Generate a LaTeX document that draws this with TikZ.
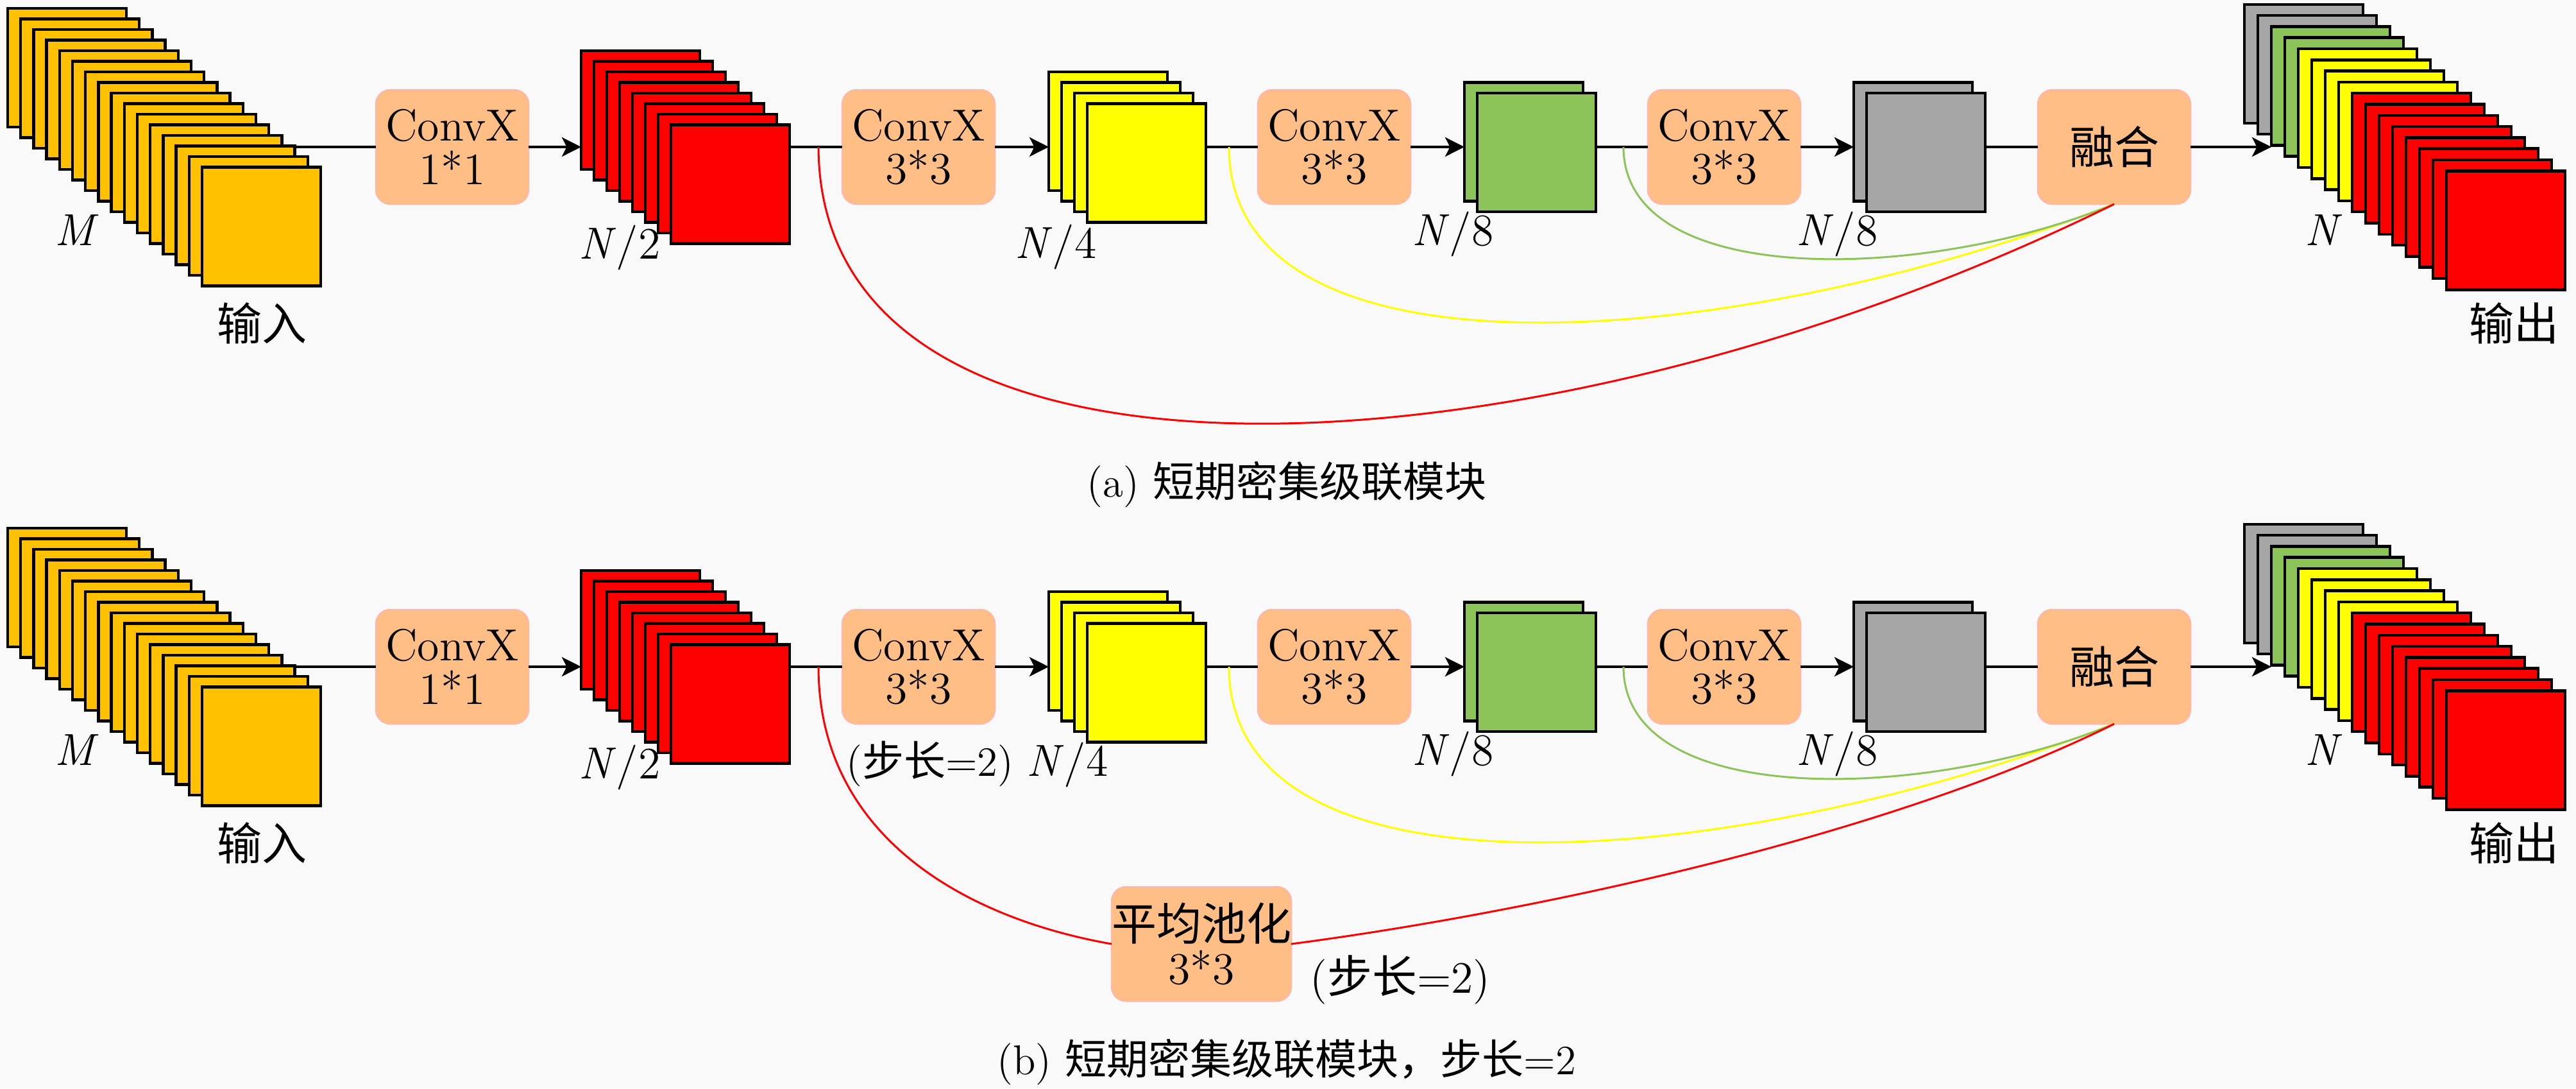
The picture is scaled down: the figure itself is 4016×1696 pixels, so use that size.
\documentclass[tikz,border=0pt]{standalone}
\usepackage{fontspec}
\newfontfamily\cjk{Noto Sans CJK SC}
\usetikzlibrary{arrows.meta}
\definecolor{cin}{RGB}{255,192,0}
\definecolor{cred}{RGB}{255,0,0}
\definecolor{cyel}{RGB}{255,255,0}
\definecolor{cgrn}{RGB}{141,196,90}
\definecolor{cgry}{RGB}{166,166,166}
\definecolor{cbox}{RGB}{255,190,134}
\definecolor{cedge}{RGB}{255,184,165}
\definecolor{cbg}{RGB}{249,249,249}
\newcommand\vN{\textit{N}}
\tikzset{
  fmap/.style={draw=black, line width=0.9pt, minimum width=37pt, minimum height=37pt, inner sep=0pt, outer sep=0pt},
  opbox/.style={fill=cbox, draw=cedge, line width=0.5pt, rounded corners=4.5pt, minimum width=47.6pt, minimum height=35.6pt, inner sep=0pt, outer sep=0pt, align=center, font=\fontsize{14}{13.5}\selectfont},
  lab/.style={inner sep=0pt, font=\fontsize{14}{14}\selectfont},
  captext/.style={inner sep=0pt, font=\fontsize{13}{13}\selectfont},
  conn/.style={draw=black, line width=0.85pt},
  arr/.style={conn, -{Stealth[length=6pt,width=6pt,inset=1.5pt]}},
  cr/.style={draw=cred, line width=0.6pt},
  cy/.style={draw=cyel, line width=0.6pt},
  cg/.style={draw=cgrn, line width=0.6pt},
}
% #1 name, #2 x of back rect, #3 y top of back rect, #4 dx, #5 dy, #6 colours
\newcommand\fmstack[6]{%
  \foreach \c [count=\i from 0] in {#6} {%
    \node[fmap, fill=\c, anchor=north west] (#1-\i) at ({#2+\i*#4},{#3+\i*#5}) {};
  }%
}
% #1 prefix, #2 y of main line
\newcommand\panel[2]{%
  \fmstack{#1in}{12}{#2-216.25}{20.2}{16.5}{cin,cin,cin,cin,cin,cin,cin,cin,cin,cin,cin,cin,cin,cin,cin,cin}
  \fmstack{#1nb}{906}{#2-150.25}{20}{16.5}{cred,cred,cred,cred,cred,cred,cred,cred}
  \fmstack{#1nc}{1635}{#2-117.25}{20}{16.5}{cyel,cyel,cyel,cyel}
  \fmstack{#1g}{2283}{#2-100.75}{20}{16.5}{cgrn,cgrn}
  \fmstack{#1k}{2890}{#2-100.75}{20}{16.5}{cgry,cgry}
  \fmstack{#1out}{3499}{#2-222.25}{21}{17.3}{cgry,cgry,cgrn,cgrn,cyel,cyel,cyel,cyel,cred,cred,cred,cred,cred,cred,cred,cred}
  \node[opbox] (#1c1) at (705,#2) {ConvX\\1*1};
  \node[opbox] (#1c2) at (1432,#2) {ConvX\\3*3};
  \node[opbox] (#1c3) at (2080,#2) {ConvX\\3*3};
  \node[opbox] (#1c4) at (2688,#2) {ConvX\\3*3};
  \node[opbox] (#1fu) at (3296,#2) {\cjk 融合};
  \node[lab,anchor=base] (#1lm) at (120,#2+153) {\textit{M}};
  \node[lab] (#1lin) at (408,#2+275) {\cjk 输入};
  \node[lab,anchor=base] (#1lnb) at (966,#2+174) {\vN/2};
  \node[lab,anchor=base] (#1lg) at (2265,#2+153) {\vN/8};
  \node[lab,anchor=base] (#1lk) at (2864,#2+153) {\vN/8};
  \node[lab,anchor=base] (#1ln) at (3623,#2+153) {\vN};
  \node[lab] (#1lout) at (3919,#2+275) {\cjk 输出};
  \draw[conn] (#1in-13.east |- #1c1.west) -- (#1c1.west);
  \draw[arr] (#1c1.east) -- (#1c1.east -| #1nb-0.west);
  \draw[conn] (#1nb-7.east |- #1c2.west) -- (#1c2.west);
  \draw[arr] (#1c2.east) -- (#1c2.east -| #1nc-0.west);
  \draw[conn] (#1nc-3.east |- #1c3.west) -- (#1c3.west);
  \draw[arr] (#1c3.east) -- (#1c3.east -| #1g-0.west);
  \draw[conn] (#1g-1.east |- #1c4.west) -- (#1c4.west);
  \draw[arr] (#1c4.east) -- (#1c4.east -| #1k-0.west);
  \draw[conn] (#1k-1.east |- #1fu.west) -- (#1fu.west);
  \draw[arr] (#1fu.east) -- (#1fu.east -| #1out-2.west);
  \coordinate (#1rs) at (1276,#2);
  \coordinate (#1ys) at (1916,#2);
  \coordinate (#1gs) at (2531,#2);
  \draw[cy] (#1ys) .. controls (1916,#2+380) and (2700,#2+320) .. (#1fu.south);
  \draw[cg] (#1gs) .. controls (2531,#2+221) and (3000,#2+211) .. (#1fu.south);
}
\begin{document}
\begin{tikzpicture}[x=0.2pt,y=-0.2pt]
  \useasboundingbox (0,0) rectangle (4016,1696);
  \fill[cbg] (0,0) rectangle (4016,1696);
  % top panel
  \panel{a}{229}
  \node[lab,anchor=base] (alnc) at (1646,229+173) {\vN/4};
  \draw[cr] (ars) .. controls (1278,229+590) and (2400,229+530) .. (afu.south);
  \node[captext] (capa) at (2006,755) {(a) {\cjk 短期密集级联模块}};
  % bottom panel
  \panel{b}{1039}
  \node[lab,anchor=base] (blnc) at (1664,1039+170) {\vN/4};
  \node[captext,anchor=base] (bst1) at (1450,1039+170) {({\cjk 步长}=2)};
  \node[opbox, minimum width=55.4pt] (bpool) at (1873,1039+432) {{\cjk 平均池化}\\3*3};
  \node[lab,anchor=base] (bst2) at (2183,1039+508) {({\cjk 步长}=2)};
  \draw[cr] (brs) .. controls (1276,1039+261) and (1500,1039+391) .. (bpool.west);
  \draw[cr] (bpool.east) .. controls (2400,1039+381) and (2950,1039+261) .. (bfu.south);
  \node[captext] (capb) at (2006,1655) {(b) {\cjk 短期密集级联模块，步长}=2};
\end{tikzpicture}
\end{document}
